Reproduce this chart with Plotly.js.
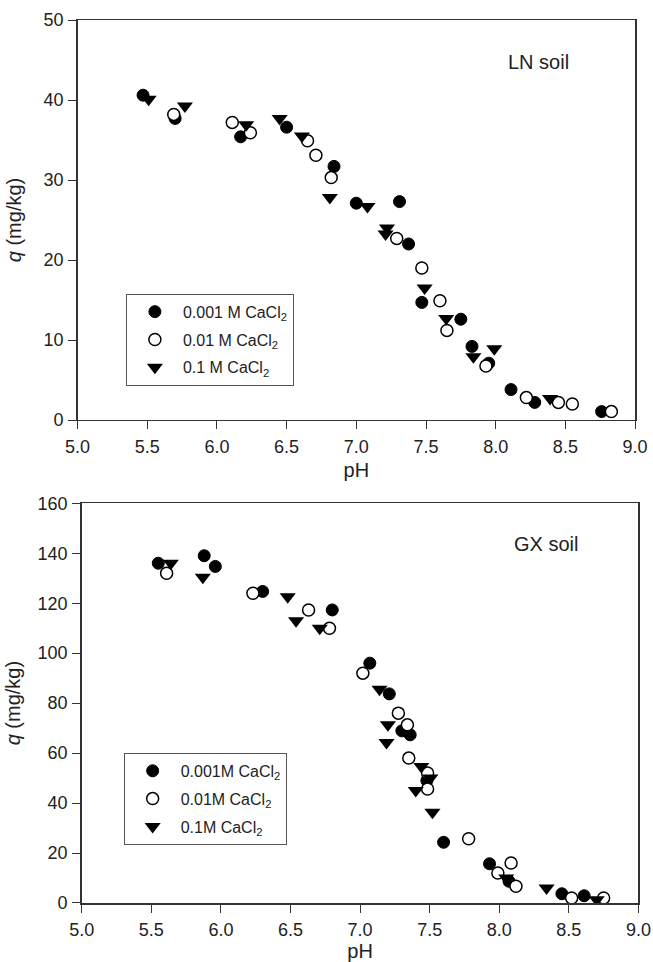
<!DOCTYPE html>
<html>
<head>
<meta charset="utf-8">
<script src="https://cdn.plot.ly/plotly-3.0.1.min.js"></script>
<style>html,body{margin:0;padding:0;background:#fff;}#chart{width:653px;height:962px;}</style>
</head>
<body>
<div id="chart"></div>
<script>
// LN soil (top panel)
const lnPH_001 = [5.47, 5.70, 6.17, 6.50, 6.84, 7.00, 7.31, 7.375, 7.47, 7.75, 7.83, 7.95, 8.11, 8.28, 8.76];
const lnQ_001  = [40.6, 37.7, 35.4, 36.6, 31.7, 27.1, 27.3, 22.0, 14.7, 12.6, 9.2, 7.1, 3.8, 2.2, 1.05];
const lnPH_01  = [5.69, 6.11, 6.24, 6.65, 6.71, 6.82, 7.29, 7.47, 7.60, 7.65, 7.93, 8.22, 8.45, 8.55, 8.83];
const lnQ_01   = [38.2, 37.2, 35.9, 34.9, 33.1, 30.3, 22.7, 19.0, 14.9, 11.2, 6.75, 2.8, 2.2, 2.0, 1.05];
const lnPH_1   = [5.51, 5.77, 6.21, 6.45, 6.61, 6.81, 7.08, 7.22, 7.21, 7.49, 7.645, 7.84, 7.99, 8.39];
const lnQ_1    = [40.1, 39.25, 36.9, 37.7, 35.5, 27.8, 26.7, 24.0, 23.25, 16.5, 12.7, 7.9, 8.9, 2.7];

// GX soil (bottom panel)
const gxPH_001 = [5.55, 5.88, 5.96, 6.30, 6.80, 7.07, 7.21, 7.30, 7.36, 7.48, 7.60, 7.93, 8.07, 8.45, 8.61];
const gxQ_001  = [136, 139, 134.7, 124.7, 117.3, 96, 83.7, 68.9, 67.3, 49, 24.3, 15.7, 8.7, 3.7, 2.9];
const gxPH_01  = [5.61, 6.23, 6.63, 6.78, 7.02, 7.275, 7.34, 7.35, 7.485, 7.485, 7.78, 7.99, 8.085, 8.12, 8.52, 8.75];
const gxQ_01   = [132, 124, 117.3, 110, 92, 76, 71.3, 58, 52, 45.6, 25.7, 12, 16, 6.7, 2, 2];
const gxPH_1   = [5.64, 5.87, 6.48, 6.54, 6.71, 7.14, 7.20, 7.19, 7.44, 7.505, 7.40, 7.52, 8.05, 8.34, 8.70];
const gxQ_1    = [136, 130.4, 122.6, 113, 110, 85.6, 71.3, 64.2, 54.6, 50, 45, 36.3, 10, 6, 1.3];

const topNames = ['0.001 M CaCl<sub>2</sub>', '0.01 M CaCl<sub>2</sub>', '0.1 M CaCl<sub>2</sub>'];
const botNames = ['0.001M CaCl<sub>2</sub>', '0.01M CaCl<sub>2</sub>', '0.1M CaCl<sub>2</sub>'];
const xTicks = [5.0, 5.5, 6.0, 6.5, 7.0, 7.5, 8.0, 8.5, 9.0];
const xTickText = ['5.0', '5.5', '6.0', '6.5', '7.0', '7.5', '8.0', '8.5', '9.0'];

const filled = {symbol: 'circle', size: 12, color: '#000', line: {color: '#000', width: 1}};
const open = {symbol: 'circle', size: 12, color: '#fff', line: {color: '#000', width: 1.5}};
const tri = {symbol: 'triangle-down', size: 14, color: '#000', line: {color: '#000', width: 0}};

function tr(x, y, name, marker, xa, ya, leg, grp) {
  return {x: x, y: y, name: name, type: 'scatter', mode: 'markers', marker: marker,
          xaxis: xa, yaxis: ya, legend: leg, legendgroup: grp};
}

const data = [
  tr(lnPH_001, lnQ_001, topNames[0], filled, 'x', 'y', 'legend', 'a1'),
  tr(lnPH_01, lnQ_01, topNames[1], open, 'x', 'y', 'legend', 'a2'),
  tr(lnPH_1, lnQ_1, topNames[2], tri, 'x', 'y', 'legend', 'a3'),
  tr(gxPH_001, gxQ_001, botNames[0], filled, 'x2', 'y2', 'legend2', 'b1'),
  tr(gxPH_01, gxQ_01, botNames[1], open, 'x2', 'y2', 'legend2', 'b2'),
  tr(gxPH_1, gxQ_1, botNames[2], tri, 'x2', 'y2', 'legend2', 'b3')
];

const FAM = 'Liberation Sans, Arial, sans-serif';
const font = {family: FAM, size: 18, color: '#222'};
const axBase = {
  showgrid: false, zeroline: false, showline: true, linecolor: '#333', linewidth: 1.5,
  mirror: true, ticks: 'outside', ticklen: 8, tickwidth: 1, tickcolor: '#333',
  tickfont: {family: FAM, size: 18, color: '#222'}, automargin: false
};
function xa(domain, anchor) {
  return Object.assign({}, axBase, {domain: domain, anchor: anchor, range: [5, 9],
    tickvals: xTicks, ticktext: xTickText, ticklabelstandoff: 2,
    title: {text: 'pH', font: {family: FAM, size: 20, color: '#222'}, standoff: 7}});
}
function ya(domain, anchor, range, dtick, standoff) {
  return Object.assign({}, axBase, {domain: domain, anchor: anchor, range: range, dtick: dtick,
    ticklabelstandoff: 1,
    title: {text: '<i>q</i> (mg/kg)', font: {family: FAM, size: 20, color: '#222'}, standoff: standoff}});
}

const legBase = {
  bgcolor: '#fff', bordercolor: '#555', borderwidth: 1,
  font: {family: FAM, size: 16, color: '#222'}, traceorder: 'grouped',
  xanchor: 'left', yanchor: 'top', itemclick: false, tracegroupgap: 4, itemwidth: 46
};

const layout = {
  width: 653, height: 962,
  margin: {l: 77, r: 14, t: 20, b: 59},
  paper_bgcolor: '#fff', plot_bgcolor: '#fff',
  font: font,
  showlegend: true,
  xaxis: xa([0.001, 0.993], 'y'),
  yaxis: ya([0.547, 1.0], 'x', [0, 50], 10, 16),
  xaxis2: xa([0.0084, 0.999], 'y2'),
  yaxis2: ya([0, 0.4527], 'x2', [0, 160], 20, 11),
  legend: Object.assign({}, legBase, {x: 0.087, y: 0.69}),
  legend2: Object.assign({}, legBase, {x: 0.083, y: 0.170}),
  annotations: [
    {text: 'LN soil', xref: 'x', yref: 'y', x: 8.31, y: 44.8, showarrow: false,
     font: {family: FAM, size: 20, color: '#222'}},
    {text: 'GX soil', xref: 'x2', yref: 'y2', x: 8.335, y: 143.5, showarrow: false,
     font: {family: FAM, size: 20, color: '#222'}}
  ]
};

Plotly.newPlot('chart', data, layout, {displayModeBar: false, staticPlot: true});
</script>
</body>
</html>
